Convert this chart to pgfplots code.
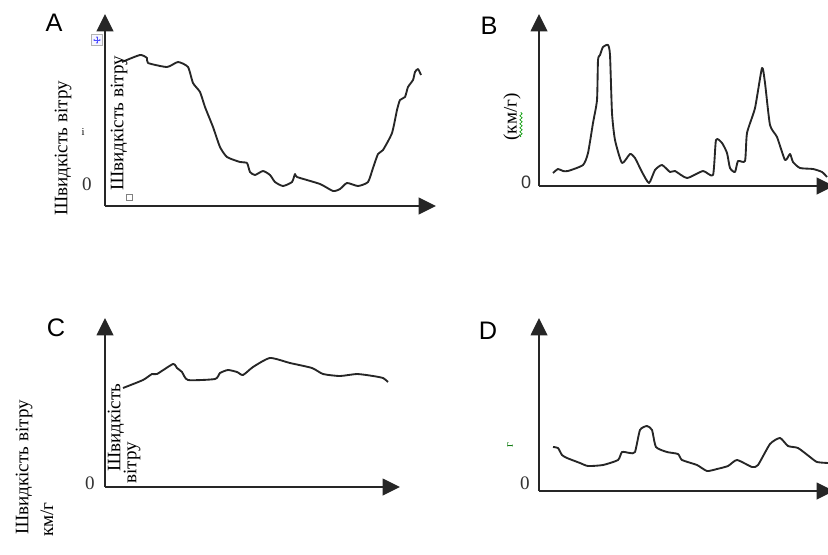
\documentclass[border=0pt]{standalone}
\usepackage{fontspec}
\setmainfont{Liberation Serif}
\newfontfamily\arial{Liberation Sans}
\usepackage{pgfplots}
\pgfplotsset{compat=1.18}
\usetikzlibrary{arrows.meta,decorations.pathmorphing}

% one panel: origin placed with at=, one data unit = one pixel of the reference
\pgfplotsset{
  panel/.style={
    anchor=origin, x=0.75pt, y=0.75pt, xmin=0, ymin=0,
    axis lines=left, xtick=\empty, ytick=\empty,
    axis line style={line width=1.2pt, draw=black!85, -{Triangle[length=13pt,width=12.5pt]}},
    clip=false,
  },
  wind/.style={line width=1.4pt, color=black!85, no marks, smooth, tension=0.35, line join=round},
}

\begin{document}
\begin{tikzpicture}[x=0.75pt, y=-0.75pt]
\def\lbl{\arial\fontsize{19}{21}\selectfont}
\def\txt{\fontsize{14.3}{16}\selectfont}
\coordinate (oA) at (105,206);
\coordinate (oB) at (539,186);
\coordinate (oC) at (105,487);
\coordinate (oD) at (539,491);

% ---- A ----
\begin{axis}[panel, at={(oA)}, xmax=331, ymax=192]
\addplot[wind] coordinates {
(17,144) (35,151) (42,148) (43,143) (62,139) (73,144) (83,139) (88,123)
(95,114) (100,99) (108,79) (115,59) (122,49) (135,44) (142,43) (145,34)
(150,31) (158,35) (165,31) (170,24) (178,20) (187,24) (190,32) (192,29)
(215,22) (228,15) (235,17) (242,23) (253,20) (263,24) (268,38) (273,52)
(278,56) (287,73) (292,96) (295,106) (300,109) (303,119) (308,126)
(310,134) (313,137) (316,131)};
\end{axis}
\node[font=\lbl] at (54,23) {A};
\node[font=\txt, text=black!80] at (87,184) {0};
\node[font=\txt, rotate=90, anchor=west, inner sep=0] at (63,216) {Швидкість вітру};
\node[font=\txt, rotate=90, anchor=west, inner sep=0] at (119,191) {Швидкість вітру};
\node[font=\fontsize{8}{8}\selectfont] at (83,132) {і};
\node[draw=gray!60, fill=blue!4, minimum size=8pt, inner sep=0] at (97,40) {};
\draw[blue!70, line width=0.5pt, {Stealth[length=1.5pt]}-{Stealth[length=1.5pt]}] (93,40) -- (101,40);
\draw[blue!70, line width=0.5pt, {Stealth[length=1.5pt]}-{Stealth[length=1.5pt]}] (97,36) -- (97,44);
\node[draw=gray, minimum size=4.5pt, inner sep=0] at (129,197) {};

% ---- B ----
\begin{axis}[panel, at={(oB)}, xmax=295, ymax=172]
\addplot[wind] coordinates {
(14,13) (19,17) (24,15) (29,15) (44,21) (49,33) (54,63) (58,86) (59,126)
(61,131) (64,139) (69,141) (71,131) (73,73) (76,46) (83,23) (91,32) (96,28)
(103,14) (110,3) (116,16) (123,21) (131,14) (136,15) (148,8) (164,15)
(174,11) (177,46) (183,43) (188,33) (191,18) (196,14) (199,25) (206,25)
(208,53) (216,78) (223,118) (226,103) (231,61) (238,49) (246,26) (251,32)
(254,24) (261,18) (274,17) (283,14) (288,9)};
\end{axis}
\node[font=\lbl] at (489,26) {B};
\node[font=\arial\fontsize{13.5}{15}\selectfont, text=black!80] at (526,182) {0};
\node[font=\txt, rotate=90] at (512,117) {(км/г)};
\draw[green!60!black, line width=0.5pt, decorate, decoration={snake, amplitude=0.8pt, segment length=3pt}] (521,137) -- (521,112);

% ---- C ----
\begin{axis}[panel, at={(oC)}, xmax=295, ymax=169]
\addplot[wind] coordinates {
(18,99) (38,107) (47,113) (52,113) (68,123) (72,119) (77,115) (83,107)
(110,108) (115,114) (123,117) (132,115) (138,112) (148,120) (165,129)
(185,124) (207,119) (218,113) (235,111) (252,113) (268,111) (278,109)
(283,105)};
\end{axis}
\node[font=\lbl] at (56,328) {C};
\node[font=\txt, text=black!80] at (90,483) {0};
\node[font=\txt, rotate=90, anchor=west, inner sep=0] at (24,535) {Швидкість вітру};
\node[font=\txt, rotate=90, anchor=west, inner sep=0] at (47,537) {км/г};
\node[font=\txt, rotate=90, anchor=west, inner sep=0] at (116,472) {Швидкість};
\node[font=\txt, rotate=90, anchor=west, inner sep=0] at (132,484) {вітру};

% ---- D ----
\begin{axis}[panel, at={(oD)}, xmax=295, ymax=173]
\addplot[wind] coordinates {
(14,44) (19,43) (23,36) (28,33) (41,28) (49,25) (64,26) (79,31) (83,39)
(91,38) (96,39) (101,61) (108,65) (113,61) (117,44) (128,39) (139,37)
(143,31) (158,26) (168,20) (178,22) (189,25) (198,31) (213,24) (219,26)
(231,47) (241,53) (249,45) (259,43) (271,34) (278,29) (289,28)};
\end{axis}
\node[font=\lbl] at (488,331) {D};
\node[font=\txt, text=black!80] at (525,483) {0};
\node[font=\fontsize{9}{9}\selectfont, rotate=90, text=green!45!black] at (510,445) {г};

\pgfresetboundingbox
\path (0,0) rectangle (828,554);
\end{tikzpicture}
\end{document}
